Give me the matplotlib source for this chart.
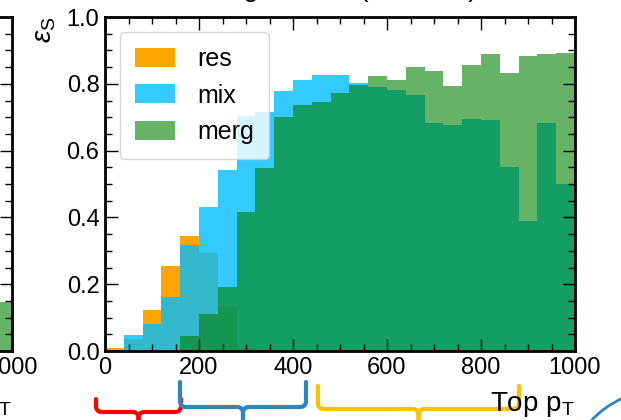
import numpy as np
import matplotlib.pyplot as plt
from matplotlib.ticker import MultipleLocator
from matplotlib.path import Path
from matplotlib.patches import PathPatch

plt.rcParams['font.family'] = ['Liberation Sans', 'DejaVu Sans']
plt.rcParams['mathtext.fontset'] = 'custom'
plt.rcParams['mathtext.rm'] = 'Liberation Sans'
plt.rcParams['mathtext.it'] = 'Liberation Sans:italic'

# top pT bins, 40 GeV wide
bin_edges = np.arange(0, 1001, 40)
res = [0.008, 0.036, 0.122, 0.254, 0.345, 0.293, 0.133, 0.008, 0, 0,
       0, 0, 0, 0, 0, 0, 0, 0, 0, 0, 0, 0, 0, 0, 0]
mix = [0, 0.048, 0.082, 0.162, 0.316, 0.430, 0.543, 0.705, 0.715, 0.778,
       0.811, 0.826, 0.826, 0.803, 0.790, 0.782, 0.767, 0.682, 0.677, 0.694,
       0.691, 0.552, 0.390, 0.682, 0.500]
merg = [0, 0, 0, 0, 0.045, 0.111, 0.192, 0.416, 0.547, 0.700,
        0.737, 0.745, 0.772, 0.797, 0.823, 0.812, 0.851, 0.837, 0.793, 0.855,
        0.888, 0.833, 0.883, 0.888, 0.893]

# neighbouring panel, only its last bin is in view
left_edges = [960, 1000]
left_merg = [0.148]


def style(a):
    a.set_xlim(0, 1000)
    a.set_ylim(0, 1)
    a.xaxis.set_major_locator(MultipleLocator(200))
    a.xaxis.set_minor_locator(MultipleLocator(50))
    a.yaxis.set_major_locator(MultipleLocator(0.2))
    a.yaxis.set_minor_locator(MultipleLocator(0.05))
    a.tick_params(which='both', direction='in', top=True, right=True,
                  labelsize=17, pad=4)
    a.tick_params(which='major', length=9, width=1)
    a.tick_params(which='minor', length=5, width=1)
    for s in a.spines.values():
        s.set_linewidth(2)


fig = plt.figure(figsize=(6.21, 4.2), dpi=100)

# braces under the axis (drawn first, behind the labels)
ov = fig.add_axes([0, 0, 1, 1], facecolor='none', zorder=-1)
ov.set_xlim(0, 621)
ov.set_ylim(420, 0)
ov.axis('off')

axl = fig.add_axes([(11.7 - 470) / 621, 69 / 420, 470 / 621, 334 / 420])
axl.stairs(left_merg, left_edges, fill=True, color='green', alpha=0.6, lw=0)
style(axl)
axl.set_xlabel('Top p$_\\mathrm{T}$', loc='right', fontsize=20, labelpad=8)

ax = fig.add_axes([105 / 621, 69 / 420, 470 / 621, 334 / 420])
ax.stairs(res, bin_edges, fill=True, color='orange', lw=0, label='res')
ax.stairs(mix, bin_edges, fill=True, color='deepskyblue', alpha=0.8, lw=0, label='mix')
ax.stairs(merg, bin_edges, fill=True, color='green', alpha=0.6, lw=0, label='merg')
style(ax)
ax.set_ylabel('$\\varepsilon_\\mathrm{S}$', loc='top', fontsize=20, labelpad=6)
ax.set_xlabel('Top p$_\\mathrm{T}$', loc='right', fontsize=20, labelpad=8)
ax.legend(loc='upper left', fontsize=18, handlelength=1.6, handleheight=0.8,
          labelspacing=0.5, borderpad=0.6, borderaxespad=0.6, handletextpad=0.9)

fig.text(151 / 621, 1 + 3 / 420, 'Matching fraction (resolved)', ha='left',
         va='baseline', fontsize=19)


def brace(x0, x1, top, h, color, r=6):
    xc = (x0 + x1) / 2
    codes = [Path.MOVETO, Path.LINETO, Path.CURVE3, Path.CURVE3, Path.LINETO,
             Path.CURVE3, Path.CURVE3, Path.LINETO]
    for xe, d in [(x0, 1), (x1, -1)]:
        verts = [(xe, top), (xe, h - r), (xe, h), (xe + d * r, h),
                 (xc - d * r, h), (xc, h), (xc, h + r), (xc, 430)]
        ov.add_patch(PathPatch(Path(verts, codes), fill=False, edgecolor=color,
                               lw=3, capstyle='round', joinstyle='round'))


brace(96, 181, 399, 412, '#ff0000')
brace(180, 306, 382, 407, '#2a86c8')
brace(318, 519, 386, 409, '#ffc000')

arc = Path([(590, 422), (603, 407), (623, 398)], [Path.MOVETO, Path.CURVE3, Path.CURVE3])
ov.add_patch(PathPatch(arc, fill=False, edgecolor='#2a86c8', lw=2))

fig.savefig('out.png', dpi=100)
